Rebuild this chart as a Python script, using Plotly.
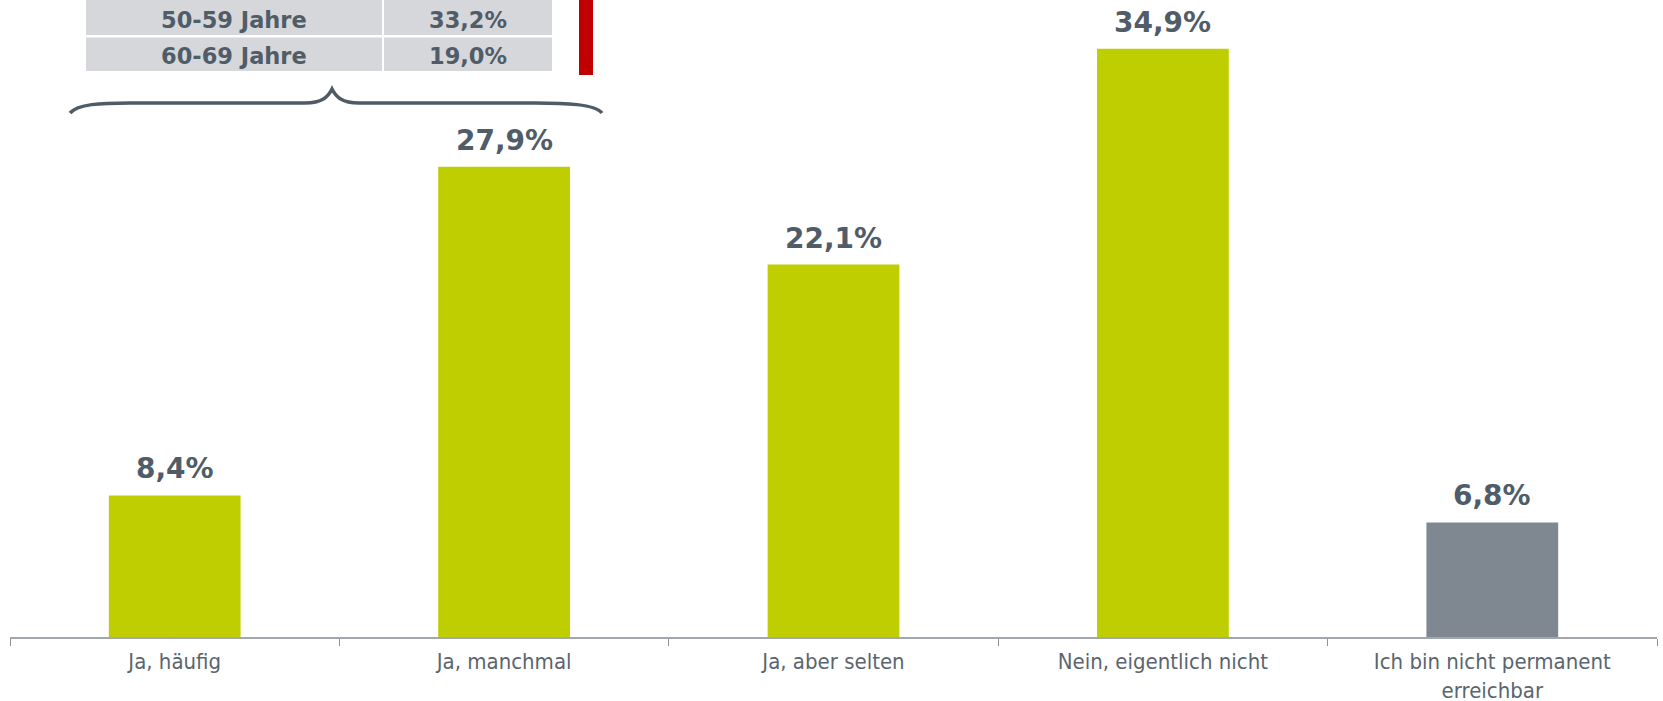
import plotly.graph_objects as go

# ---- data ----
categories = ["Ja, häufig", "Ja, manchmal", "Ja, aber selten",
              "Nein, eigentlich nicht", "Ich bin nicht permanent<br>erreichbar"]
values = [8.4, 27.9, 22.1, 34.9, 6.8]
value_labels = ["8,4%", "27,9%", "22,1%", "34,9%", "6,8%"]
bar_colors = ["#BFCE00", "#BFCE00", "#BFCE00", "#BFCE00", "#7F8791"]

age_groups = ["50-59 Jahre", "60-69 Jahre"]
age_shares = ["33,2%", "19,0%"]

# ---- layout geometry ----
W, H = 1663, 701
ML, MR, MT, MB = 10, 6, 0, 64
PW, PH = W - ML - MR, H - MT - MB


def px(x):
    return (x - ML) / PW


def py(y):
    return 1 - (y - MT) / PH


LABEL_COLOR = "#505C68"
TICK_COLOR = "#5A6570"

fig = go.Figure()
fig.add_trace(go.Bar(
    x=categories, y=values, width=0.4,
    marker=dict(color=bar_colors, line=dict(width=0)),
    hoverinfo="skip",
))

annotations = []
for c, v, lab in zip(categories, values, value_labels):
    annotations.append(dict(
        x=c, y=v, xref="x", yref="y", text=f"<b>{lab}</b>", showarrow=False,
        yanchor="bottom", yshift=8,
        font=dict(family="DejaVu Sans", size=28, color=LABEL_COLOR),
    ))

shapes = []
# table cells (top-left inset)
row_tops = [-1, 37.5]
row_bots = [35, 71]
col_lefts = [86, 384]
col_rights = [382, 552]
for r, (g, s) in enumerate(zip(age_groups, age_shares)):
    for ci in range(2):
        shapes.append(dict(
            type="rect", xref="paper", yref="paper",
            x0=px(col_lefts[ci]), x1=px(col_rights[ci]),
            y0=py(row_bots[r]), y1=py(row_tops[r]),
            fillcolor="#D5D7DB", line=dict(width=0), layer="below",
        ))
    yc = (max(row_tops[r], 0) + row_bots[r]) / 2 + 2
    for ci, txt in enumerate([g, s]):
        annotations.append(dict(
            x=px((col_lefts[ci] + col_rights[ci]) / 2), y=py(yc),
            xref="paper", yref="paper", text=f"<b>{txt}</b>", showarrow=False,
            xanchor="center", yanchor="middle",
            font=dict(family="DejaVu Sans", size=22.5, color=LABEL_COLOR),
        ))

# red marker bar
shapes.append(dict(
    type="rect", xref="paper", yref="paper",
    x0=px(579), x1=px(593), y0=py(75), y1=py(-1),
    fillcolor="#C00000", line=dict(width=0),
))

# curly brace
pts = [("M", [(70, 113)]),
       ("C", [(78, 104), (100, 103), (130, 103)]),
       ("L", [(305, 103)]),
       ("C", [(322, 103), (328, 97), (332, 89)]),
       ("C", [(336, 97), (342, 103), (359, 103)]),
       ("L", [(535, 103)]),
       ("C", [(565, 103), (595, 104), (602, 113)])]
path = " ".join(cmd + " " + " ".join(f"{px(a):.5f},{py(b):.5f}" for a, b in p)
                for cmd, p in pts)
shapes.append(dict(type="path", xref="paper", yref="paper", path=path,
                   line=dict(color="#4F5B66", width=3.5)))

fig.update_layout(
    width=W, height=H,
    margin=dict(l=ML, r=MR, t=MT, b=MB),
    paper_bgcolor="white", plot_bgcolor="white",
    showlegend=False, bargap=0.6,
    shapes=shapes, annotations=annotations,
    xaxis=dict(
        type="category", tickson="boundaries", ticks="outside", ticklen=7,
        tickcolor="#8A9097", tickwidth=1, automargin=False,
        showline=True, linecolor="#A2A7AD", linewidth=1.5,
        showgrid=False, zeroline=False, ticklabelstandoff=4,
        tickfont=dict(family="DejaVu Sans Condensed, DejaVu Sans", size=22,
                      color=TICK_COLOR),
    ),
    yaxis=dict(range=[0, 37.8], visible=False, showgrid=False, zeroline=False,
               automargin=False),
)

fig.write_html(
    "out.html",
    config={"displayModeBar": False},
    post_script="document.body.style.margin='0';document.body.style.overflow='hidden';",
)
